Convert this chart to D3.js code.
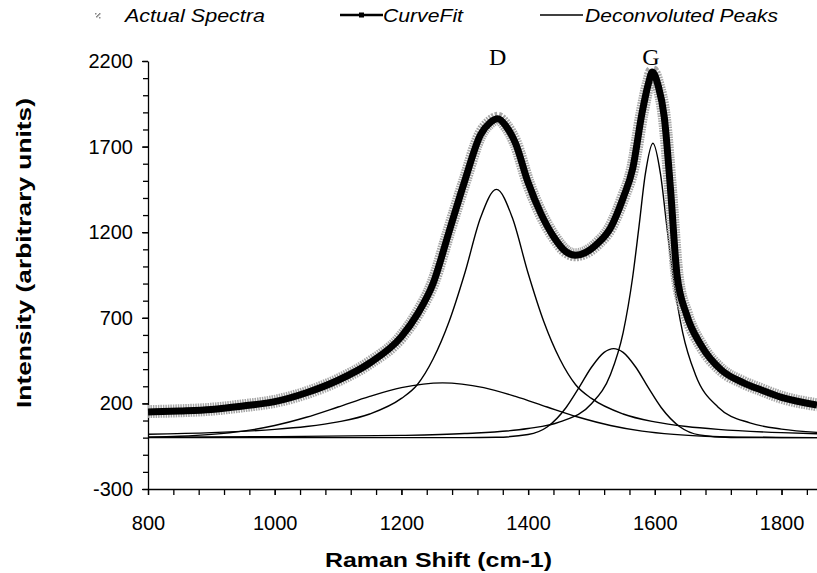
<!DOCTYPE html>
<html>
<head>
<meta charset="utf-8">
<script src="https://cdn.jsdelivr.net/npm/d3@7"></script>
<style>
  body { margin: 0; background: #fff; }
  text { font-family: "Liberation Sans", Arial, sans-serif; fill: #000; }
</style>
</head>
<body>
<div id="chart"></div>
<script>
// Raman spectrum, values
const spectraShift = [800, 850, 900, 950, 1000, 1050, 1100, 1150, 1200, 1225, 1250, 1275, 1300, 1325, 1340, 1352, 1365, 1380, 1400, 1420, 1440, 1460, 1475, 1490, 1510, 1530, 1550, 1565, 1580, 1590, 1596, 1605, 1615, 1625, 1635, 1650, 1673, 1705, 1740, 1768, 1800, 1856];
const spectraIntensity = [152, 157, 166, 186, 212, 262, 336, 438, 590, 722, 905, 1205, 1500, 1772, 1842, 1865, 1822, 1722, 1490, 1310, 1178, 1088, 1068, 1082, 1136, 1228, 1402, 1572, 1898, 2072, 2138, 2062, 1872, 1440, 952, 722, 540, 396, 322, 280, 236, 192];
const fitShift = [800, 850, 900, 950, 1000, 1050, 1100, 1150, 1200, 1225, 1250, 1275, 1300, 1325, 1340, 1352, 1365, 1380, 1400, 1420, 1440, 1460, 1475, 1490, 1510, 1530, 1550, 1565, 1580, 1590, 1596, 1605, 1615, 1625, 1635, 1650, 1673, 1705, 1740, 1768, 1800, 1856];
const fitIntensity = [150, 156, 165, 185, 210, 262, 335, 436, 590, 720, 900, 1200, 1500, 1770, 1840, 1862, 1820, 1720, 1490, 1310, 1175, 1085, 1065, 1080, 1135, 1225, 1400, 1570, 1900, 2070, 2136, 2060, 1870, 1440, 950, 720, 540, 395, 320, 278, 235, 191];

// deconvoluted peaks
const dShift = [800, 900, 1000, 1050, 1100, 1150, 1200, 1225, 1250, 1275, 1300, 1325, 1350, 1375, 1400, 1425, 1450, 1475, 1500, 1550, 1600, 1650, 1700, 1800, 1856];
const dIntensity = [20, 29, 48, 65, 92, 138, 229, 309, 459, 675, 960, 1286, 1450, 1286, 960, 675, 459, 309, 229, 138, 92, 65, 48, 29, 23];
const gShift = [800, 1000, 1200, 1300, 1400, 1450, 1500, 1530, 1550, 1565, 1575, 1585, 1597, 1609, 1619, 1629, 1644, 1664, 1700, 1750, 1800, 1856];
const gIntensity = [3, 6, 13, 24, 53, 92, 198, 369, 614, 937, 1233, 1539, 1720, 1539, 1233, 937, 614, 369, 178, 86, 50, 31];
const d3Shift = [800, 1300, 1350, 1400, 1430, 1460, 1480, 1500, 1520, 1535, 1550, 1570, 1590, 1610, 1640, 1670, 1720, 1856];
const d3Intensity = [0, 0, 2, 18, 62, 176, 290, 411, 498, 520, 498, 411, 290, 176, 62, 16, 1, 0];
const d4Shift = [800, 850, 900, 950, 1000, 1050, 1100, 1150, 1200, 1265, 1330, 1380, 1430, 1480, 1530, 1580, 1630, 1680, 1730, 1800, 1856];
const d4Intensity = [3, 8, 19, 38, 71, 119, 179, 241, 292, 320, 292, 241, 179, 119, 71, 38, 19, 8, 3, 1, 0];

const xMajor = [800, 1000, 1200, 1400, 1600, 1800];
const yMajor = [-300, 200, 700, 1200, 1700, 2200];
const peakLabels = ["D", "G"];
const peakLabelShift = [1352, 1594];

const width = 817, height = 573;

var svg = d3.select("#chart").append("svg")
  .attr("width", width)
  .attr("height", height);

var x = d3.scaleLinear().domain([800, 1856]).range([148, 817]);
var y = d3.scaleLinear().domain([-300, 2200]).range([489, 61]);

function zip(xs, ys) {
  return xs.map(function(d, i) { return [d, ys[i]]; });
}

// plain hyphen for negatives, like the original
function plainNumber(d) { return String(d); }

var line = d3.line()
  .x(function(d) { return x(d[0]); })
  .y(function(d) { return y(d[1]); })
  .curve(d3.curveMonotoneX);

// axes - minor ticks first, then labelled majors
var xMinor = d3.range(800, 1857, 40);
var yMinor = d3.range(-300, 2201, 100);

svg.append("g")
  .attr("transform", "translate(0,489)")
  .call(d3.axisBottom(x).tickValues(xMinor).tickSize(6).tickFormat(""))
  .call(function(g) { g.select(".domain").remove(); });

var xAxis = svg.append("g")
  .attr("transform", "translate(0,489)")
  .call(d3.axisBottom(x).tickValues(xMajor).tickSize(6).tickSizeOuter(0).tickFormat(plainNumber));
xAxis.selectAll("text")
  .attr("y", 41).attr("dy", 0)
  .style("font-size", "20px");

svg.append("g")
  .attr("transform", "translate(148,0)")
  .call(d3.axisLeft(y).tickValues(yMinor).tickSize(5).tickFormat(""))
  .call(function(g) { g.select(".domain").remove(); });

var yAxis = svg.append("g")
  .attr("transform", "translate(148,0)")
  .call(d3.axisLeft(y).tickValues(yMajor).tickSize(6).tickSizeOuter(0).tickPadding(9).tickFormat(plainNumber));
yAxis.selectAll("text").style("font-size", "20px");

svg.selectAll(".domain, .tick line").attr("stroke", "#000").attr("stroke-width", 1.3);

// series
var plot = svg.append("g");

plot.append("path")
  .datum(zip(d3Shift, d3Intensity))
  .attr("d", line).attr("fill", "none").attr("stroke", "#000").attr("stroke-width", 1.4);
plot.append("path")
  .datum(zip(d4Shift, d4Intensity))
  .attr("d", line).attr("fill", "none").attr("stroke", "#000").attr("stroke-width", 1.4);
plot.append("path")
  .datum(zip(dShift, dIntensity))
  .attr("d", line).attr("fill", "none").attr("stroke", "#000").attr("stroke-width", 1.4);
plot.append("path")
  .datum(zip(gShift, gIntensity))
  .attr("d", line).attr("fill", "none").attr("stroke", "#000").attr("stroke-width", 1.4);

plot.append("path")
  .datum(zip(spectraShift, spectraIntensity))
  .attr("d", line).attr("fill", "none")
  .attr("stroke", "#a6a6a6").attr("stroke-width", 13)
  .attr("stroke-dasharray", "1.5 1");

plot.append("path")
  .datum(zip(fitShift, fitIntensity))
  .attr("d", line).attr("fill", "none")
  .attr("stroke", "#000").attr("stroke-width", 7)
  .attr("stroke-linejoin", "round");

// peak letters
svg.selectAll(".peak-label")
  .data(peakLabels)
  .enter().append("text")
    .attr("class", "peak-label")
    .text(function(d) { return d; })
    .attr("x", function(d, i) { return x(peakLabelShift[i]); })
    .attr("y", 65)
    .attr("text-anchor", "middle")
    .style("font-family", "'Liberation Serif', 'Times New Roman', serif")
    .style("font-size", "24px");

// axis titles
svg.append("text")
  .text("Raman Shift (cm-1)")
  .attr("x", 325).attr("y", 567)
  .attr("textLength", 227).attr("lengthAdjust", "spacingAndGlyphs")
  .style("font-weight", "bold").style("font-size", "21px");

svg.append("g")
  .attr("transform", "translate(31,408)")
  .append("text")
    .text("Intensity (arbitrary units)")
    .attr("transform", "rotate(-90)")
    .attr("textLength", 310).attr("lengthAdjust", "spacingAndGlyphs")
    .style("font-weight", "bold").style("font-size", "21px");

// legend
var legend = svg.append("g").attr("class", "legend");
var legendY = 15;

legend.selectAll(".speck")
  .data([[-2, -2], [1, -1], [-1, 1], [2, 2], [0, 0], [2, -2]])
  .enter().append("rect")
    .attr("x", function(d) { return 97 + d[0]; })
    .attr("y", function(d) { return legendY + d[1]; })
    .attr("width", 1.5).attr("height", 1.5)
    .attr("fill", "#888");

legend.append("line")
  .attr("x1", 340).attr("x2", 383).attr("y1", legendY).attr("y2", legendY)
  .attr("stroke", "#000").attr("stroke-width", 2.5);
legend.append("rect")
  .attr("x", 359).attr("y", legendY - 2.5).attr("width", 5).attr("height", 5)
  .attr("fill", "#000");

legend.append("line")
  .attr("x1", 540).attr("x2", 583).attr("y1", legendY).attr("y2", legendY)
  .attr("stroke", "#000").attr("stroke-width", 1.3);

var legendText = [["Actual Spectra", 125, 140], ["CurveFit", 383, 80], ["Deconvoluted Peaks", 585, 193]];
legend.selectAll(".legend-text")
  .data(legendText)
  .enter().append("text")
    .attr("class", "legend-text")
    .text(function(d) { return d[0]; })
    .attr("x", function(d) { return d[1]; })
    .attr("y", legendY + 7)
    .attr("textLength", function(d) { return d[2]; })
    .attr("lengthAdjust", "spacingAndGlyphs")
    .style("font-style", "italic")
    .style("font-size", "19px");
</script>
</body>
</html>
